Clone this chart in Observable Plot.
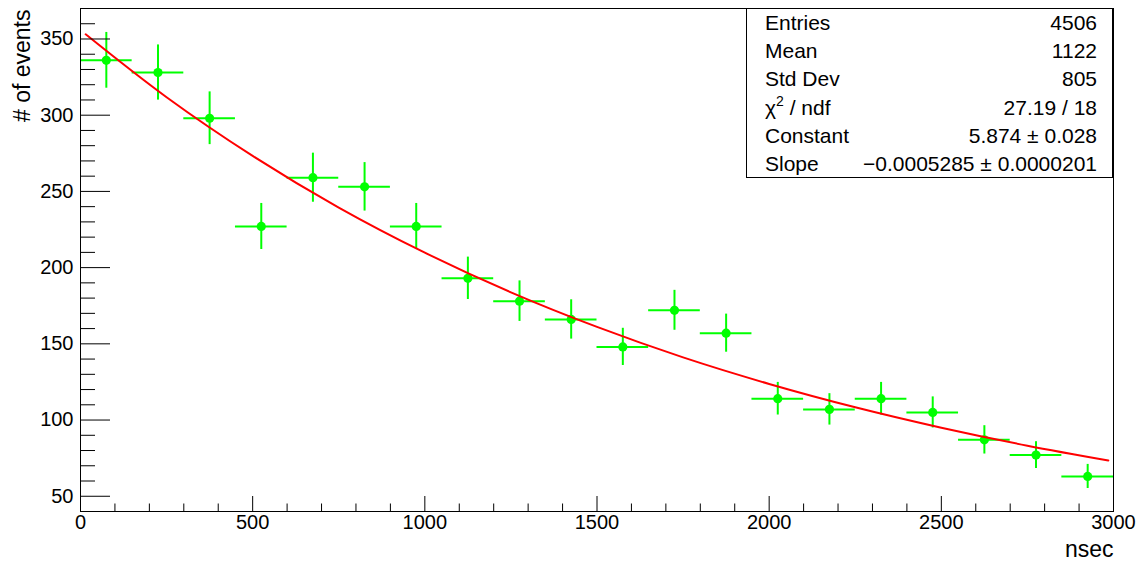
<!DOCTYPE html>
<html>
<head>
<meta charset="utf-8">
<script src="https://cdn.jsdelivr.net/npm/d3@7"></script>
<script src="https://cdn.jsdelivr.net/npm/@observablehq/plot@0.6"></script>
<style>
  body { margin: 0; background: #fff; font-family: "Liberation Sans", Arial, Helvetica, sans-serif; }
  #wrap { position: relative; width: 1138px; height: 563px; }
  #stats {
    position: absolute; left: 746px; top: 8px; width: 367px; height: 170px;
    box-sizing: border-box; border: 1px solid #000; background: #fff;
    font-size: 21px; color: #000; padding: 0 15px 0 18px;
  }
  #stats .row { display: flex; justify-content: space-between; height: 28.2px; line-height: 28.2px; }
  #stats sup { font-size: 14px; line-height: 0; position: relative; top: -1px; }
</style>
</head>
<body>
<div id="wrap">
  <div id="chart"></div>
  <div id="stats"></div>
</div>
<script>
// ---- data ----
const binEdges   = [0, 150, 300, 450, 600, 750, 900, 1050, 1200, 1350, 1500, 1650, 1800, 1950, 2100, 2250, 2400, 2550, 2700, 2850, 3000];
const binCenters = [75, 225, 375, 525, 675, 825, 975, 1125, 1275, 1425, 1575, 1725, 1875, 2025, 2175, 2325, 2475, 2625, 2775, 2925];
const counts     = [336, 328, 298, 227, 259, 253, 227, 193, 178, 166, 148, 172, 157, 114, 107, 114, 105, 87, 77, 63];
const errors     = [18.3, 18.1, 17.3, 15.1, 16.1, 15.9, 15.1, 13.9, 13.3, 12.9, 12.2, 13.1, 12.5, 10.7, 10.3, 10.7, 10.2, 9.3, 8.8, 7.9];

// fitted exponential curve
const fitX = [15, 250, 500, 750, 1000, 1250, 1500, 1750, 2000, 2250, 2500, 2750, 2985];
const fitY = [353.1, 311.8, 273.3, 239.4, 209.8, 183.8, 161.1, 141.1, 123.7, 108.4, 95.0, 83.2, 73.5];

// axis ticks
const xMajorTicks = [0, 500, 1000, 1500, 2000, 2500, 3000];
const xMinorTicks = [100, 200, 300, 400, 600, 700, 800, 900, 1100, 1200, 1300, 1400, 1600, 1700, 1800, 1900, 2100, 2200, 2300, 2400, 2600, 2700, 2800, 2900];
const yMajorTicks = [50, 100, 150, 200, 250, 300, 350];
const yMinorTicks = [40, 60, 70, 80, 90, 110, 120, 130, 140, 160, 170, 180, 190, 210, 220, 230, 240, 260, 270, 280, 290, 310, 320, 330, 340, 360, 370];

// stats box
const statLabels = ["Entries", "Mean", "Std Dev", "χ<sup>2</sup> / ndf", "Constant", "Slope"];
const statValues = ["4506", "1122", "805", "27.19 / 18", "5.874 ± 0.028", "−0.0005285 ± 0.0000201"];

const xLabel = "nsec";
const yLabel = "# of events";

// ---- build ----
const bins = counts.map((c, i) => ({
  x: binCenters[i], lo: binEdges[i], hi: binEdges[i + 1], y: c, e: errors[i]
}));
const fit = fitX.map((x, i) => ({x, y: fitY[i]}));

const green = "#00ff00";
const red = "#ff0000";
const font = "'Liberation Sans', Arial, Helvetica, sans-serif";
const plain = d => String(d);

const chart = Plot.plot({
  width: 1138,
  height: 563,
  marginLeft: 80,
  marginRight: 25,
  marginTop: 8,
  marginBottom: 52,
  style: {fontFamily: font, fontSize: "20px", color: "#000", background: "#fff", overflow: "visible"},
  x: {domain: [0, 3000]},
  y: {domain: [40, 370]},
  marks: [
    // error bars
    Plot.ruleY(bins, {y: "y", x1: "lo", x2: "hi", stroke: green, strokeWidth: 2}),
    Plot.ruleX(bins, {x: "x", y1: d => d.y - d.e, y2: d => d.y + d.e, stroke: green, strokeWidth: 2}),
    Plot.dot(bins, {x: "x", y: "y", r: 4.6, fill: green, stroke: null}),
    // fit
    Plot.line(fit, {x: "x", y: "y", stroke: red, strokeWidth: 2, curve: "catmull-rom"}),
    // ticks (inward, ROOT style)
    Plot.axisY(yMajorTicks, {tickSize: -30, tickFormat: () => "", label: null, stroke: "#000"}),
    Plot.axisY(yMinorTicks, {tickSize: -15, tickFormat: () => "", label: null, stroke: "#000"}),
    Plot.axisY(yMajorTicks, {tickSize: 0, tickPadding: 7, tickFormat: plain, label: null, fontSize: 20, fill: "#000"}),
    Plot.axisX(xMajorTicks, {tickSize: -15, tickFormat: () => "", label: null, stroke: "#000"}),
    Plot.axisX(xMinorTicks, {tickSize: -7.5, tickFormat: () => "", label: null, stroke: "#000"}),
    Plot.axisX(xMajorTicks, {tickSize: 0, tickPadding: 3, tickFormat: plain, label: null, fontSize: 20, fill: "#000"}),
    Plot.frame({stroke: "#000", strokeWidth: 1}),
    // axis titles
    Plot.text([yLabel], {frameAnchor: "top-left", text: d => d, rotate: -90, textAnchor: "end",
      lineAnchor: "middle", dx: -58, dy: 1, fontSize: 23, fill: "#000"}),
    Plot.text([xLabel], {frameAnchor: "bottom-right", text: d => d, textAnchor: "end",
      lineAnchor: "middle", dx: 0, dy: 38, fontSize: 23, fill: "#000"})
  ]
});
document.getElementById("chart").appendChild(chart);

const stats = document.getElementById("stats");
statLabels.forEach((l, i) => {
  const row = document.createElement("div");
  row.className = "row";
  row.innerHTML = `<span>${l}</span><span>${statValues[i]}</span>`;
  stats.appendChild(row);
});
</script>
</body>
</html>
